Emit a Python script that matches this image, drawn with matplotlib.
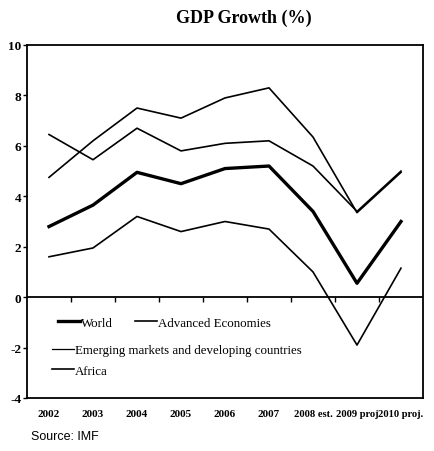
import numpy as np
import matplotlib.pyplot as plt
from matplotlib.lines import Line2D

# data
years = ['2002', '2003', '2004', '2005', '2006', '2007',
         '2008 est.', '2009 proj', '2010 proj.']
world = [2.8, 3.65, 4.95, 4.5, 5.1, 5.2, 3.4, 0.55, 3.0]
advanced = [1.6, 1.95, 3.2, 2.6, 3.0, 2.7, 1.0, -1.9, 1.15]
emerging = [4.75, 6.2, 7.5, 7.1, 7.9, 8.3, 6.35, 3.35, 4.95]
africa = [6.45, 5.45, 6.7, 5.8, 6.1, 6.2, 5.2, 3.4, 5.0]

plt.rcParams['font.family'] = ['Liberation Serif', 'DejaVu Serif']

fig = plt.figure(figsize=(4.35, 4.52), dpi=100)
ax = fig.add_axes([27/435, 1 - 399/452, 396/435, 353/452])

x = np.arange(len(years))
ax.plot(x, world, color='black', lw=2.4)
ax.plot(x, advanced, color='black', lw=1.2)
ax.plot(x, emerging, color='black', lw=1.2)
ax.plot(x, africa, color='black', lw=1.2)

ax.axhline(0, color='black', lw=1.3)
# small ticks along the zero line between categories
ax.vlines(x[:-1] + 0.5, -0.18, 0, color='black', lw=1)

ax.set_xlim(-0.5, len(years) - 0.5)
ax.set_ylim(-4, 10)
ax.set_yticks(range(-4, 11, 2))
ax.set_yticklabels([str(v) for v in range(-4, 11, 2)], fontweight='bold', fontsize=9.5)
ax.tick_params(axis='y', direction='out', length=3, pad=1, width=1)
ax.set_xticks(x)
ax.set_xticklabels(years, fontweight='bold', fontsize=8)
for lab in ax.get_xticklabels()[6:]:
    lab.set_fontsize(7.6)
ax.tick_params(axis='x', length=0, pad=8)
for s in ax.spines.values():
    s.set_linewidth(1.3)

# legend in the reference's odd layout
h1 = [Line2D([], [], color='black', lw=2.4), Line2D([], [], color='black', lw=1.2)]
leg1 = ax.legend(h1, ['World', 'Advanced Economies'], ncol=2, frameon=False,
                 loc='upper left', bbox_to_anchor=(0.065, 0.245), fontsize=9.3,
                 handlelength=1.7, handletextpad=0.1, columnspacing=1.7,
                 borderaxespad=0)
ax.add_artist(leg1)
h2 = [Line2D([], [], color='black', lw=0.9), Line2D([], [], color='black', lw=1.2)]
ax.legend(h2, ['Emerging markets and developing countries', 'Africa'], frameon=False,
          loc='upper left', bbox_to_anchor=(0.05, 0.167), fontsize=9.3,
          handlelength=1.7, handletextpad=0.1, labelspacing=0.65, borderaxespad=0)

fig.text(0.56, 0.96, 'GDP Growth (%)', ha='center', va='center',
         fontsize=13, fontweight='bold')
fig.text(31/435, 1 - 437/452, 'Source: IMF', ha='left', va='center',
         fontsize=9, family='Liberation Sans')

fig.savefig('out.png', dpi=100)
